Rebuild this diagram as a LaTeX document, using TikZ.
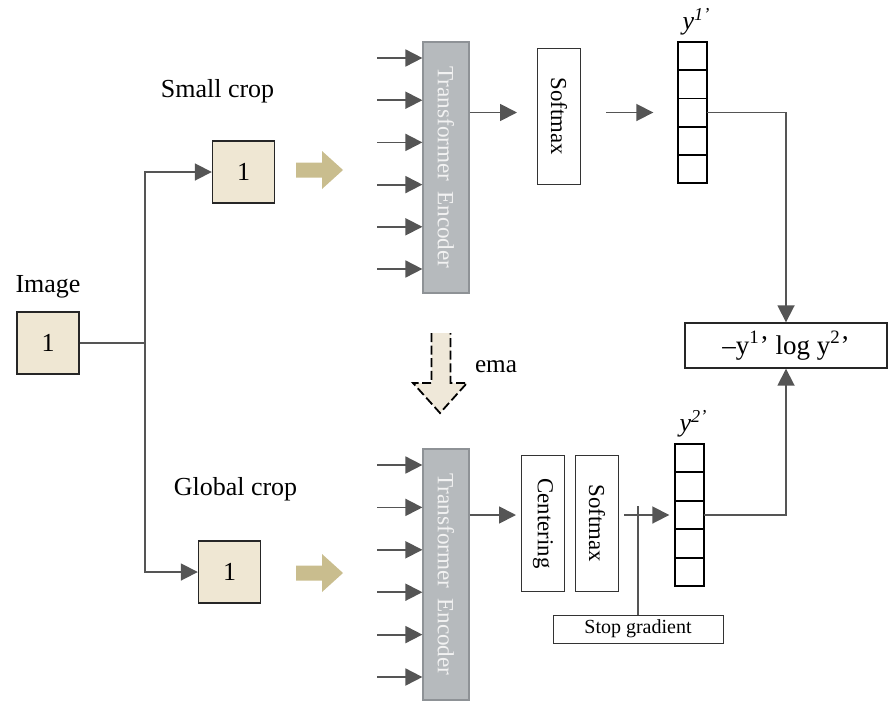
\documentclass[tikz,border=0pt]{standalone}
\usepackage{fontspec}
\setmainfont{Liberation Serif}
\usetikzlibrary{positioning,arrows.meta}

\definecolor{cropfill}{HTML}{EFE7D3}
\definecolor{blockarrow}{HTML}{C9BD8E}
\definecolor{emafill}{HTML}{EFE8D9}
\definecolor{encfill}{HTML}{B6BABD}
\definecolor{encdraw}{HTML}{8E9296}
\definecolor{linegray}{HTML}{555555}

\tikzset{
  cropbox/.style={draw=black!85, line width=0.7pt, fill=cropfill, minimum width=31pt, minimum height=31pt, inner sep=0pt, font=\fontsize{13}{15}\selectfont},
  encoder/.style={draw=encdraw, line width=0.6pt, fill=encfill, rotate=-90, minimum width=125.5pt, minimum height=23pt, inner sep=0pt, text=white!95!black, font=\fontsize{11.6}{13}\selectfont},
  opbox/.style={draw=black!80, line width=0.5pt, rotate=-90, minimum width=68pt, minimum height=21.5pt, inner sep=0pt, font=\fontsize{11.4}{13}\selectfont},
  cell/.style={draw=black, line width=0.9pt, minimum width=14.2pt, minimum height=14.1pt, inner sep=0pt, outer sep=0pt},
  conn/.style={draw=linegray, line width=0.9pt, -{Triangle[length=8.5pt,width=8.5pt]}},
  wire/.style={draw=linegray, line width=0.9pt},
  lbl/.style={font=\fontsize{13}{15}\selectfont},
}

\begin{document}
\begin{tikzpicture}[x=0.5pt, y=-0.5pt]
  \useasboundingbox (0,0) rectangle (888,702);

  % crops
  \node[cropbox] (img) at (48,343) {1};
  \node[cropbox] (small) at (243.5,172) {1};
  \node[cropbox] (global) at (229.5,572) {1};
  \node[lbl, above=3pt of img] (imglbl) {Image};
  \node[lbl, above=15pt of small, xshift=-13pt] (smalllbl) {Small crop};
  \node[lbl, above=16pt of global, xshift=3pt] (globallbl) {Global crop};

  \coordinate (split) at (145,343);
  \draw[wire] (img.east) -- (split);
  \draw[conn] (split) |- (small.west);
  \draw[conn] (split) |- (global.west);

  % block arrows into the encoders
  \foreach \yy in {170,573} {
    \fill[blockarrow] (296,\yy-7.5) -- (322,\yy-7.5) -- (322,\yy-19) -- (343,\yy)
      -- (322,\yy+19) -- (322,\yy+7.5) -- (296,\yy+7.5) -- cycle;
  }

  % encoders (rotated: south = left side, north = right side)
  \node[encoder] (enc1) at (446,167.5) {Transformer\, Encoder};
  \node[encoder] (enc2) at (446,574.5) {Transformer\, Encoder};
  \foreach \i in {0,...,5} {
    \coordinate (in1-\i) at (377,58+42.2*\i);
    \draw[conn] (in1-\i) -- (in1-\i -| enc1.south);
    \coordinate (in2-\i) at (377,465+42.4*\i);
    \draw[conn] (in2-\i) -- (in2-\i -| enc2.south);
  }

  % ema
  \fill[emafill] (431.5,333) -- (431.5,383) -- (413,383) -- (440,413) -- (467,383)
    -- (450.5,383) -- (450.5,333) -- cycle;
  \draw[line width=0.9pt, dash pattern=on 4.5pt off 1.8pt] (431.5,333) -- (431.5,383)
    -- (413,383) -- (440,413) -- (467,383) -- (450.5,383) -- (450.5,333);
  \node[font=\fontsize{12.6}{14}\selectfont] (ema) at (496,367) {ema};

  % heads
  \node[opbox] (sm1) at (559,116) {Softmax};
  \node[opbox] (cen) at (543,523.5) {Centering};
  \node[opbox] (sm2) at (597,523.5) {Softmax};

  % output vectors
  \foreach \i in {1,...,5} {
    \node[cell] (v1-\i) at (692.5,42+28.2*\i-14.1) {};
    \node[cell] (v2-\i) at (689.5,444+28.4*\i-14.2) {};
  }
  \node[lbl, above=0pt of v1-1, xshift=2pt] (y1lbl) {\textit{y}\textsuperscript{\textit{1’}}};
  \node[lbl, above=0pt of v2-1, xshift=2pt] (y2lbl) {\textit{y}\textsuperscript{\textit{2’}}};

  \draw[conn, shorten >=10pt] (enc1.north |- v1-3.west) -- (sm1.south |- v1-3.west);
  \draw[conn, shorten <=12.5pt, shorten >=12.5pt] (sm1.north |- v1-3.west) -- (v1-3.west);
  \draw[conn, shorten >=2.5pt] (enc2.north |- v2-3.west) -- (cen.south |- v2-3.west);
  \draw[conn, shorten <=2.5pt, shorten >=3pt] (sm2.north |- v2-3.west) -- (v2-3.west);

  % stop gradient
  \node[draw=black!80, line width=0.5pt, minimum width=85pt, minimum height=14pt, inner sep=0pt,
    font=\fontsize{10}{12}\selectfont] (sg) at (638,629) {Stop gradient};
  \coordinate (sgtop) at (638,506);
  \draw[wire] (sgtop) -- (sgtop |- sg.north);

  % loss
  \node[draw=black!85, line width=0.7pt, minimum width=101pt, minimum height=22.5pt, inner sep=0pt,
    font=\fontsize{13.5}{15}\selectfont] (loss) at (786,345.5)
    {–y\textsuperscript{1}’ log y\textsuperscript{2}’};
  \draw[conn] (v1-3.east) -| (loss.north);
  \draw[conn] (v2-3.east) -| (loss.south);
\end{tikzpicture}
\end{document}
